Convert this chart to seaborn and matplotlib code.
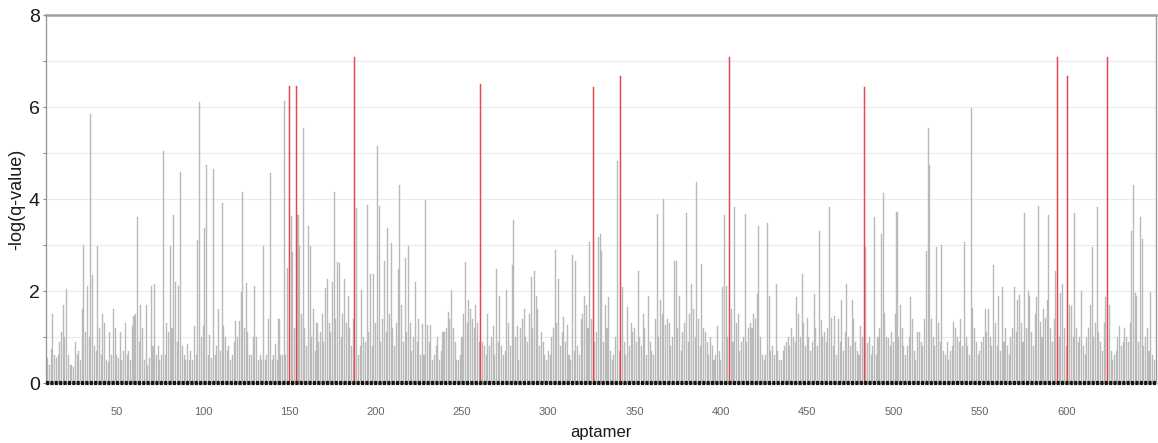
import numpy as np
import pandas as pd
import matplotlib
matplotlib.use("Agg")
import matplotlib.pyplot as plt
import seaborn as sns
from matplotlib.ticker import MultipleLocator

# ---------------- data ----------------
first_aptamer = 10
neg_log_q = [
    0.55, 0.4, 0.75, 1.5, 0.6, 0.55, 0.6, 0.9, 1.1, 1.7,          # 10-19
    1.0, 2.05, 0.6, 0.4, 0.4, 0.35, 0.9, 0.6, 0.7, 0.5,           # 20-29
    1.6, 3.0, 1.1, 2.1, 1.0, 5.85, 2.35, 0.8, 0.7, 2.97,          # 30-39
    1.2, 0.6, 1.5, 1.3, 0.5, 0.45, 1.1, 0.6, 1.6, 1.2,            # 40-49
    0.6, 0.55, 1.1, 0.5, 0.7, 1.3, 0.6, 0.7, 0.5, 1.25,           # 50-59
    1.45, 1.5, 3.6, 0.9, 1.7, 1.2, 0.5, 1.7, 0.4, 0.55,           # 60-69
    2.1, 0.8, 2.15, 0.6, 0.8, 0.5, 0.6, 5.05, 0.6, 1.3,           # 70-79
    1.1, 2.97, 1.2, 3.65, 2.2, 0.9, 2.1, 4.58, 0.8, 0.6,          # 80-89
    0.5, 0.85, 0.5, 0.7, 0.5, 1.25, 0.6, 3.1, 6.1, 1.0,           # 90-99
    1.25, 3.37, 4.74, 0.6, 1.05, 0.55, 4.65, 0.6, 0.8, 1.6,       # 100-109
    0.7, 3.92, 1.25, 1.0, 0.7, 0.8, 0.5, 0.6, 0.9, 1.35,          # 110-119
    1.0, 1.35, 1.98, 4.15, 1.2, 2.18, 1.1, 0.6, 0.6, 1.0,         # 120-129
    2.1, 1.0, 0.5, 0.6, 0.5, 2.98, 0.5, 0.6, 1.4, 4.57,           # 130-139
    0.5, 0.6, 0.85, 0.5, 1.4, 0.6, 0.6, 6.12, 0.6, 2.5,           # 140-149
    6.45, 3.62, 2.85, 1.2, 6.45, 3.65, 2.98, 1.5, 5.55, 1.2,      # 150-159
    0.8, 3.41, 2.98, 1.0, 1.6, 0.7, 1.3, 0.9, 1.1, 1.5,           # 160-169
    0.9, 2.06, 2.26, 1.3, 1.1, 2.2, 4.16, 1.4, 2.63, 2.6,         # 170-179
    1.0, 1.5, 2.26, 1.3, 1.9, 1.2, 0.8, 1.4, 7.09, 3.8,           # 180-189
    0.6, 0.8, 2.03, 1.0, 0.9, 3.86, 1.1, 2.37, 0.8, 2.37,         # 190-199
    1.3, 5.15, 3.85, 0.9, 1.4, 2.66, 1.1, 3.36, 1.5, 3.05,        # 200-209
    1.2, 0.8, 1.3, 2.47, 4.31, 1.7, 0.9, 2.71, 1.1, 2.98,         # 210-219
    1.3, 0.7, 1.0, 2.2, 0.9, 1.4, 0.6, 1.28, 0.6, 3.98,           # 220-229
    1.26, 0.9, 1.26, 0.5, 0.6, 0.8, 1.0, 0.5, 0.7, 1.1,           # 230-239
    1.1, 1.2, 1.55, 1.4, 2.03, 1.2, 0.9, 0.5, 0.5, 0.6,           # 240-249
    1.0, 1.5, 2.64, 1.3, 1.8, 1.6, 1.4, 1.2, 1.7, 1.3,            # 250-259
    0.9, 6.5, 0.9, 0.8, 0.6, 1.5, 0.8, 1.0, 1.25, 0.6,            # 260-269
    2.47, 0.9, 1.9, 0.8, 0.6, 0.7, 2.03, 1.3, 0.8, 2.56,          # 270-279
    3.54, 1.0, 1.25, 0.5, 1.2, 1.4, 1.6, 1.0, 0.9, 1.5,           # 280-289
    2.31, 1.2, 2.44, 1.9, 1.6, 0.8, 1.1, 0.9, 0.6, 0.5,           # 290-299
    0.7, 0.6, 1.0, 1.2, 2.9, 1.3, 2.26, 0.8, 1.1, 1.43,           # 300-309
    0.9, 1.26, 0.6, 0.5, 2.79, 0.7, 2.66, 0.8, 0.6, 1.4,          # 310-319
    1.5, 1.9, 1.7, 1.2, 3.07, 1.4, 6.44, 0.9, 1.1, 3.18,          # 320-329
    3.24, 2.88, 0.9, 1.7, 1.2, 1.88, 0.7, 0.5, 0.6, 1.0,          # 330-339
    4.83, 0.7, 6.67, 2.08, 0.9, 0.6, 1.65, 0.8, 1.3, 1.1,         # 340-349
    1.2, 0.9, 2.44, 1.0, 0.8, 1.49, 1.2, 0.6, 1.9, 0.9,           # 350-359
    0.7, 0.6, 1.4, 3.67, 1.0, 1.8, 1.5, 3.99, 1.26, 1.4,          # 360-369
    1.3, 0.8, 1.0, 2.66, 2.66, 1.2, 1.9, 0.7, 1.1, 1.3,           # 370-379
    3.69, 0.9, 1.5, 2.16, 1.6, 1.0, 4.38, 1.4, 0.8, 2.59,         # 380-389
    1.2, 1.1, 0.9, 0.6, 1.0, 0.8, 0.5, 0.6, 1.25, 0.7,            # 390-399
    0.5, 2.08, 3.65, 2.1, 1.0, 7.09, 1.6, 0.9, 3.82, 1.3,         # 400-409
    1.49, 0.7, 0.9, 1.0, 3.67, 0.9, 1.2, 1.3, 1.2, 1.5,           # 410-419
    1.4, 1.93, 3.41, 1.0, 0.6, 0.5, 0.6, 3.47, 1.9, 0.7,          # 420-429
    0.8, 0.6, 2.16, 0.7, 0.5, 0.5, 0.7, 0.8, 0.9, 1.0,            # 430-439
    0.8, 1.2, 1.0, 0.9, 1.88, 1.49, 1.0, 2.36, 1.3, 0.8,          # 440-449
    1.41, 1.0, 0.7, 0.9, 1.93, 1.2, 0.8, 3.31, 1.38, 1.0,         # 450-459
    1.1, 0.9, 1.2, 3.82, 1.41, 0.8, 1.45, 0.6, 1.39, 0.9,         # 460-469
    1.8, 0.7, 1.1, 2.16, 1.0, 0.8, 1.8, 1.4, 0.9, 0.7,            # 470-479
    0.6, 1.25, 1.0, 6.43, 2.96, 0.86, 1.0, 0.6, 0.8, 3.6,         # 480-489
    0.6, 1.0, 1.2, 3.25, 4.14, 1.53, 1.0, 0.98, 0.8, 1.1,         # 490-499
    0.9, 1.5, 3.72, 1.0, 1.7, 1.2, 0.8, 0.6, 0.8, 1.0,            # 500-509
    1.88, 1.4, 0.7, 0.5, 1.1, 1.1, 0.9, 0.8, 1.4, 2.88,           # 510-519
    5.55, 4.74, 1.4, 1.0, 0.8, 2.95, 1.3, 0.9, 3.0, 0.7,          # 520-529
    0.6, 0.9, 0.5, 0.7, 0.8, 1.33, 1.2, 1.0, 0.9, 1.39,           # 530-539
    0.8, 3.07, 1.0, 0.8, 0.6, 5.97, 1.62, 1.2, 0.9, 0.6,          # 540-549
    0.7, 0.9, 1.0, 1.6, 1.1, 1.6, 1.0, 0.8, 2.56, 1.3,            # 550-559
    0.8, 1.9, 0.7, 2.08, 0.9, 1.2, 0.8, 0.6, 1.0, 1.2,            # 560-569
    2.08, 1.1, 1.8, 1.91, 1.3, 0.9, 3.69, 1.2, 2.0, 1.9,          # 570-579
    1.1, 0.8, 1.5, 1.86, 3.85, 1.33, 1.0, 1.6, 1.41, 1.8,         # 580-589
    3.65, 1.2, 0.9, 1.4, 2.44, 7.09, 1.0, 1.95, 2.16, 1.2,        # 590-599
    0.8, 6.67, 1.7, 1.67, 1.0, 3.69, 1.2, 0.9, 1.0, 2.0,          # 600-609
    0.8, 0.6, 1.0, 1.2, 1.7, 2.96, 1.0, 1.3, 3.82, 1.1,           # 610-619
    0.9, 0.7, 1.3, 1.88, 7.09, 1.7, 0.7, 0.5, 0.6, 0.7,           # 620-629
    1.0, 1.25, 0.8, 0.9, 1.2, 1.0, 0.9, 1.3, 3.31, 4.31,          # 630-639
    1.95, 1.9, 0.9, 3.6, 3.13, 0.8, 1.0, 1.2, 0.7, 1.98,          # 640-649
    0.6, 0.5,                                                     # 650-651
]
significant = [150, 154, 188, 261, 326, 342, 405, 483, 595, 601, 624]
x_ticks = [50, 100, 150, 200, 250, 300, 350, 400, 450, 500, 550, 600]
y_ticks = [0, 2, 4, 6, 8]

# ---------------- style ----------------
sns.set_theme(style="white")
plt.rcParams["font.family"] = ["Liberation Sans", "DejaVu Sans"]

aptamer = np.arange(first_aptamer, first_aptamer + len(neg_log_q))
df = pd.DataFrame({"aptamer": aptamer, "value": neg_log_q})
df["sig"] = df["aptamer"].isin(significant)

fig = plt.figure(figsize=(11.58, 4.43), dpi=100)
ax = fig.add_axes([0.0397, 0.1354, 0.9585, 0.8307])

sns.barplot(data=df, x="aptamer", y="value", hue="sig", native_scale=True,
            dodge=False, palette={False: "#bfbfbf", True: "#e4474d"},
            width=0.6, legend=False, ax=ax, linewidth=0, saturation=1,
            errorbar=None)

# thin solid edge so every narrow bar renders visibly
for p in ax.patches:
    fc = p.get_facecolor()
    if fc[0] > 0.8 and fc[1] < 0.4:
        p.set_edgecolor(fc)
        p.set_linewidth(0.35)
        p.set_zorder(3)
    else:
        p.set_edgecolor("#b3b3b3")
        p.set_linewidth(0.25)

ax.set_xlim(9, 652)
ax.set_ylim(0, 8)
ax.set_xticks(x_ticks)
ax.set_xticklabels([str(t) for t in x_ticks])
ax.set_yticks(y_ticks)
ax.yaxis.set_minor_locator(MultipleLocator(1))
ax.set_axisbelow(True)
ax.grid(which="both", axis="y", color="#ebebeb", lw=0.8)
ax.grid(axis="x", visible=False)

# dark dashed baseline band
ax.axhline(0, color="#151515", lw=3.0, linestyle=(0, (0.75, 0.3)),
           zorder=5, clip_on=False)

ax.tick_params(axis="y", which="both", direction="out", length=2.5, width=0.8,
               color="#888888", pad=2, labelsize=14, labelcolor="#1a1a1a", left=True)
ax.tick_params(axis="x", length=0, pad=17, labelsize=8, labelcolor="#666666")

for side in ["left", "right", "bottom"]:
    ax.spines[side].set_color("#9a9a9a")
    ax.spines[side].set_linewidth(1.0)
ax.spines["top"].set_color("#a0a0a0")
ax.spines["top"].set_linewidth(1.8)

ax.set_xlabel("aptamer", fontsize=12, color="#1a1a1a", labelpad=6)
ax.set_ylabel("-log(q-value)", fontsize=13, color="#1a1a1a")
ax.yaxis.set_label_coords(-0.019, 0.5)

fig.savefig("out.png", dpi=100)
